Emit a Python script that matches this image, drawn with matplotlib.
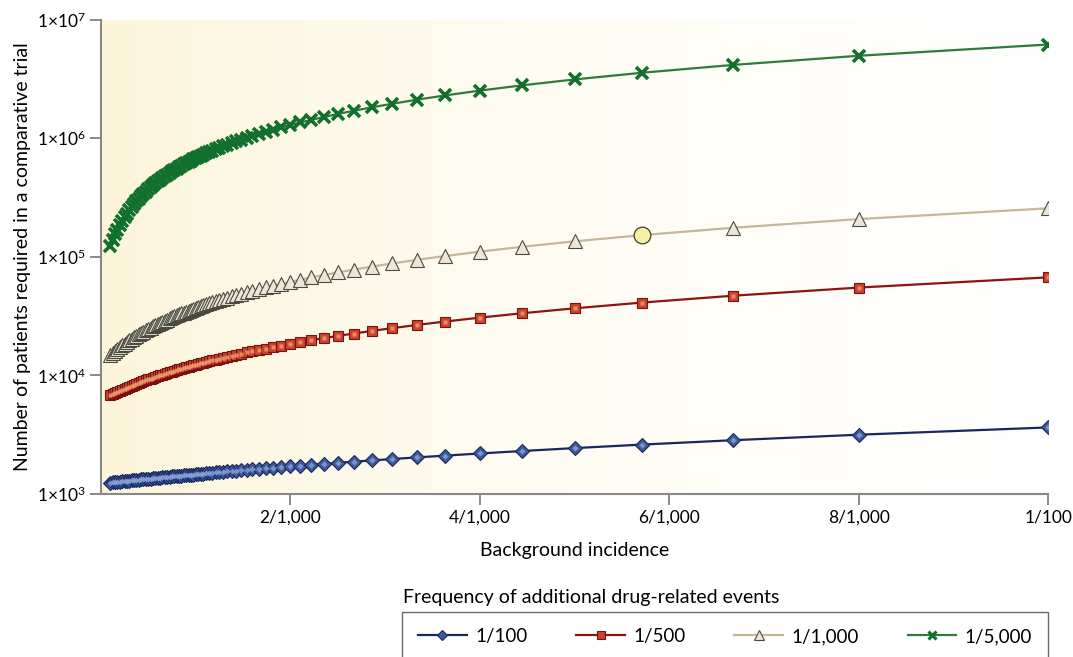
#!/usr/bin/env python
## Sample size needed to detect an extra drug-related event rate
## against a background incidence, for four event frequencies

import numpy as np
import matplotlib
matplotlib.use('Agg')
import matplotlib.pyplot as plt
from matplotlib.colors import LinearSegmentedColormap

plt.rcParams['font.family'] = ['Lato', 'DejaVu Sans']
plt.rcParams['mathtext.fontset'] = 'custom'
plt.rcParams['mathtext.rm'] = 'Lato'
plt.rcParams['mathtext.it'] = 'Lato:italic'

# background incidence, per 1,000
incidence = [0.1, 0.125, 0.15, 0.175, 0.2, 0.225, 0.25, 0.275, 0.3, 0.325,
             0.35, 0.375, 0.4, 0.425, 0.45, 0.475, 0.5, 0.525, 0.55, 0.575,
             0.6, 0.625, 0.65, 0.675, 0.7, 0.725, 0.75, 0.775, 0.8, 0.825,
             0.85, 0.875, 0.9, 0.925, 0.95, 0.975,
             1.0, 1.0256, 1.0526, 1.0811, 1.1111, 1.1429, 1.1765, 1.2121,
             1.25, 1.2903, 1.3333, 1.3793, 1.4286, 1.4815, 1.5385, 1.6,
             1.6667, 1.7391, 1.8182, 1.9048, 2.0, 2.1053, 2.2222, 2.3529,
             2.5, 2.6667, 2.8571, 3.0769, 3.3333, 3.6364, 4.0, 4.4444,
             5.0, 5.7143, 6.6667, 8.0, 10.0]

# patients required, one list per extra event frequency
n_100 = [1248, 1254, 1260, 1266, 1273, 1279, 1285, 1291, 1297, 1303,
         1309, 1315, 1322, 1328, 1334, 1340, 1346, 1352, 1358, 1364,
         1370, 1377, 1383, 1389, 1395, 1401, 1407, 1413, 1419, 1425,
         1432, 1438, 1444, 1450, 1456, 1462,
         1468, 1474, 1481, 1488, 1495, 1503, 1511, 1520,
         1529, 1539, 1550, 1561, 1573, 1586, 1600, 1615,
         1631, 1649, 1668, 1689, 1712, 1738, 1766, 1798,
         1834, 1875, 1921, 1974, 2037, 2110, 2199, 2307,
         2441, 2614, 2844, 3166, 3646]

n_500 = [6784, 6938, 7093, 7247, 7401, 7555, 7709, 7863, 8017, 8171,
         8326, 8480, 8634, 8788, 8942, 9096, 9250, 9404, 9558, 9712,
         9866, 10020, 10174, 10328, 10482, 10636, 10790, 10944, 11098, 11252,
         11406, 11560, 11714, 11867, 12021, 12175,
         12329, 12487, 12653, 12828, 13013, 13208, 13415, 13634,
         13868, 14116, 14380, 14663, 14966, 15291, 15642, 16020,
         16430, 16875, 17361, 17893, 18478, 19125, 19843, 20646,
         21548, 22571, 23739, 25086, 26658, 28513, 30739, 33457,
         36851, 41210, 47011, 55113, 67226]

n_1000 = [14817, 15434, 16051, 16669, 17286, 17903, 18520, 19137, 19754, 20371,
          20988, 21605, 22222, 22839, 23456, 24072, 24689, 25306, 25923, 26539,
          27156, 27773, 28389, 29006, 29622, 30239, 30855, 31472, 32088, 32704,
          33321, 33937, 34553, 35170, 35786, 36402,
          37018, 37650, 38315, 39016, 39756, 40539, 41367, 42245,
          43178, 44171, 45231, 46363, 47576, 48879, 50282, 51797,
          53438, 55221, 57166, 59297, 61639, 64228, 67104, 70317,
          73931, 78026, 82704, 88099, 94391, 101822, 110733, 121616,
          135206, 152656, 175884, 208328, 256829]

n_5000 = [123569, 139012, 154455, 169897, 185338, 200778, 216218, 231657, 247095, 262532,
          277968, 293404, 308839, 324273, 339707, 355139, 370571, 386002, 401433, 416862,
          432291, 447719, 463146, 478572, 493998, 509423, 524847, 540270, 555693, 571115,
          586536, 601956, 617375, 632794, 648212, 663629,
          679046, 694856, 711497, 729038, 747553, 767126, 787844, 809820,
          833167, 858020, 884522, 912855, 943206, 975803, 1010903, 1048808,
          1089866, 1134486, 1183155, 1236453, 1295068, 1359840, 1431794, 1512192,
          1602615, 1705064, 1822102, 1957091, 2114506, 2300435, 2523404, 2795694,
          3135718, 3572331, 4153496, 4965244, 6178748]

series_labels = ['1/100', '1/500', '1/1,000', '1/5,000']
x_ticks = [2, 4, 6, 8, 10]
x_ticklabels = ['2/1,000', '4/1,000', '6/1,000', '8/1,000', '1/100']
y_ticks = [1e3, 1e4, 1e5, 1e6, 1e7]
y_ticklabels = [r'1×10$^{3}$', r'1×10$^{4}$', r'1×10$^{5}$', r'1×10$^{6}$', r'1×10$^{7}$']
highlight = 5.7143   # point singled out on the 1/1,000 curve

x = np.array(incidence)

fig = plt.figure(figsize=(10.73, 6.57), dpi=100)
ax = fig.add_axes([0.094, 0.248, 0.883, 0.722])

# pale yellow wash fading to white towards the right, on its own axes
grad = np.linspace(0, 1, 256)[None, :] ** 0.8
wash = LinearSegmentedColormap.from_list('wash', ['#fcf5d9', '#fefcf1', '#ffffff'])
bg = fig.add_axes(ax.get_position(), zorder=-1)
bg.imshow(grad, cmap=wash, aspect='auto', extent=[0, 1, 0, 1])
bg.set_axis_off()
ax.patch.set_visible(False)

ax.set_yscale('log')
ax.set_xlim(0, 10)
ax.set_ylim(1e3, 1e7)

styles = [
    # label, data, line colour, marker, face, edge, size, highlight colour
    (series_labels[0], n_100, '#1b2660', 'D', '#3d5a9a', '#1b2660', 7, '#8aa3d6'),
    (series_labels[1], n_500, '#8e1414', 's', '#c8442e', '#7a1010', 7.5, '#f0a070'),
    (series_labels[2], n_1000, '#c4b79a', '^', '#ece6d8', '#4a4a40', 9.5, None),
    (series_labels[3], n_5000, '#2f7a3c', 'x', '#13702c', '#13702c', 8.5, None),
]

handles = []
for lab, ys, lc, mk, fc, ec, ms, hc in styles:
    ys = np.array(ys, dtype=float)
    ax.plot(x, ys, color=lc, lw=1.6, zorder=2)
    keep = np.ones(len(x), bool)
    if lab == '1/1,000':
        keep = ~np.isclose(x, highlight)
    if mk == 'x':
        ax.plot(x[keep], ys[keep], ls='none', marker='x', ms=ms, mew=2.6,
                color=fc, zorder=3)
    else:
        ax.plot(x[keep], ys[keep], ls='none', marker=mk, ms=ms, mfc=fc,
                mec=ec, mew=0.8, zorder=3)
        if hc is not None:
            ax.plot(x[keep], ys[keep], ls='none', marker=mk, ms=ms * 0.45,
                    mfc=hc, mec='none', zorder=3, alpha=0.8)
    h, = ax.plot([], [], color=lc, lw=1.6, marker=mk,
                 ms=ms * 0.75, mfc=fc, mec=ec,
                 mew=2.2 if mk == 'x' else 0.8, label=lab)
    handles.append(h)

hi = np.isclose(x, highlight)
ax.plot(x[hi], np.array(n_1000, dtype=float)[hi], ls='none', marker='o', ms=12,
        mfc='#f6f0a4', mec='#3c3c30', mew=0.9, zorder=4)

ax.set_xticks(x_ticks)
ax.set_xticklabels(x_ticklabels, fontsize=12.5)
ax.set_yticks(y_ticks)
ax.set_yticklabels(y_ticklabels, fontsize=12.5)
ax.yaxis.set_minor_locator(matplotlib.ticker.NullLocator())
ax.tick_params(direction='out', length=8, width=1.2, color='#777777', pad=3)

for side in ['top', 'right']:
    ax.spines[side].set_visible(False)
for side in ['left', 'bottom']:
    ax.spines[side].set_color('#888888')
    ax.spines[side].set_linewidth(1.5)

ax.set_xlabel('Background incidence', fontsize=14, labelpad=12)
ax.set_ylabel('Number of patients required in a comparative trial', fontsize=14,
              labelpad=4)

fig.text(403 / 1073, 1 - 598 / 657, 'Frequency of additional drug-related events',
         fontsize=14, ha='left', va='center')
leg = fig.legend(handles=handles, ncol=4, loc='upper left',
                 bbox_to_anchor=(402 / 1073, 1 - 612 / 657),
                 fontsize=13.5, frameon=True, fancybox=False, handlelength=2.6,
                 columnspacing=2.6, borderpad=0.85, handletextpad=0.45,
                 borderaxespad=0)
leg.get_frame().set_edgecolor('#444444')
leg.get_frame().set_linewidth(1.0)

fig.savefig('out.png', dpi=100)
